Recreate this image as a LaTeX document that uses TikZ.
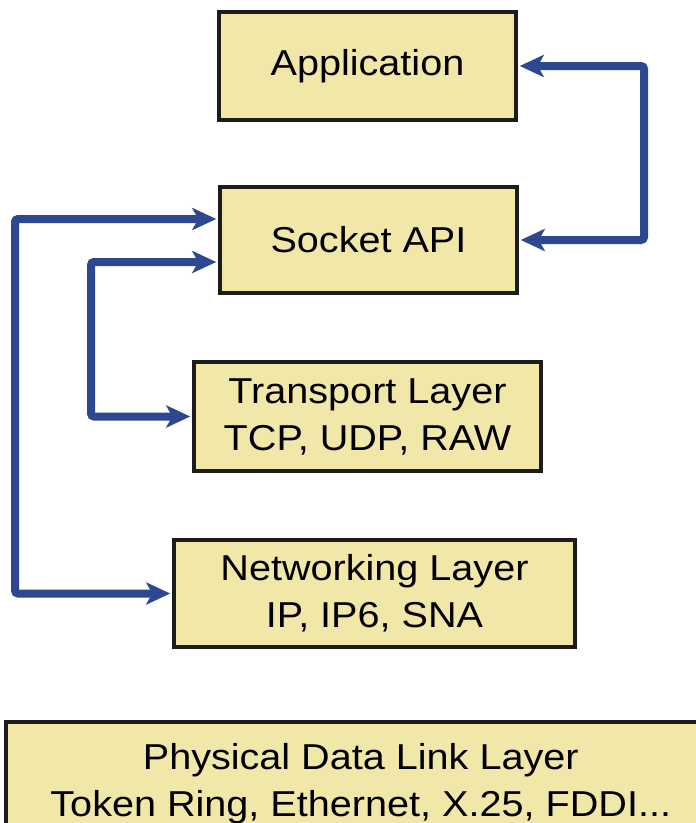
\documentclass[tikz,border=0pt]{standalone}
\usepackage{fontspec}
\setmainfont[FakeStretch=1.1]{Liberation Sans}
\usetikzlibrary{arrows.meta}

\definecolor{layerfill}{RGB}{240,231,168}
\definecolor{layerline}{RGB}{28,28,28}
\definecolor{linkblue}{RGB}{45,72,145}

\tikzset{
  linktip/.tip={Stealth[length=24pt,width=22pt,inset=6pt]},
  layer/.style={draw=layerline, line width=3.5pt, fill=layerfill, align=center,
    inner sep=0pt, font=\fontsize{36}{47}\selectfont},
  conn/.style={draw=linkblue, line width=8pt, rounded corners=3pt,
    linktip-linktip, shorten <=2pt, shorten >=2pt}
}

\begin{document}
\begin{tikzpicture}[x=1pt,y=-1pt]
  \useasboundingbox (0,0) rectangle (696,823);
  \fill[white] (0,0) rectangle (696,823);

  % protocol stack
  \node[layer, minimum width=297pt, minimum height=108pt] (app)   at (367.5,66)   {Application};
  \node[layer, minimum width=297pt, minimum height=106pt] (sock)  at (368.5,240)  {Socket API};
  \node[layer, minimum width=347pt, minimum height=109pt] (trans) at (367.5,416.5) {Transport Layer\\TCP, UDP, RAW};
  \node[layer, minimum width=401pt, minimum height=107pt] (net)   at (374.5,593.5) {Networking Layer\\IP, IP6, SNA};
  \node[layer, minimum width=710pt, minimum height=124pt, anchor=north west] (phys) at (4,720)
    {Physical Data Link Layer\\Token Ring, Ethernet, X.25, FDDI...};

  % entry points on the left side of the socket layer
  \coordinate (sockhi) at ([yshift=21pt]sock.west);
  \coordinate (socklo) at ([yshift=-22pt]sock.west);

  % links between the layers
  \coordinate (rt) at (644,0);
  \coordinate (lo) at (15,0);
  \coordinate (li) at (91,0);
  \draw[conn] (app.east) -- (rt |- app.east) -- (rt |- sock.east) -- (sock.east);
  \draw[conn] (sockhi) -- (lo |- sockhi) -- (lo |- net.west) -- (net.west);
  \draw[conn] (socklo) -- (li |- socklo) -- (li |- trans.west) -- (trans.west);
\end{tikzpicture}
\end{document}
